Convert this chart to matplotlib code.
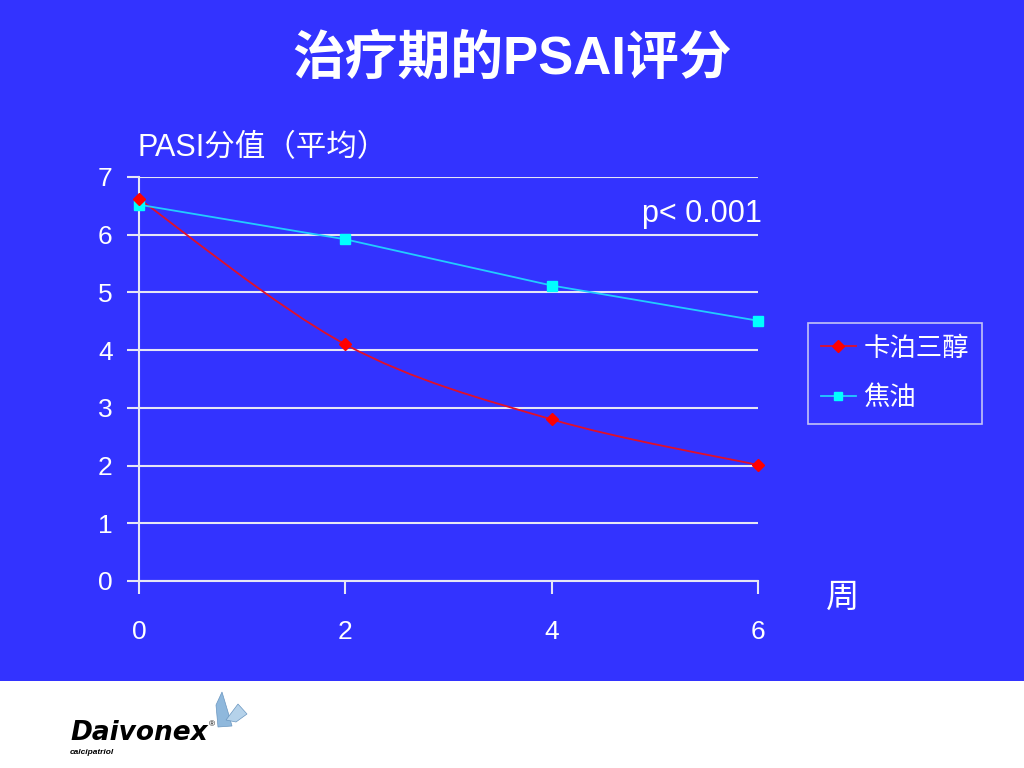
import numpy as np
import matplotlib
matplotlib.use("Agg")
import matplotlib.pyplot as plt
from matplotlib.path import Path
from matplotlib.patches import PathPatch, Rectangle, Polygon
from matplotlib.lines import Line2D

plt.rcParams['font.family'] = ['Liberation Sans', 'Noto Sans CJK SC', 'DejaVu Sans']

# data
weeks = [0, 2, 4, 6]
calcipotriol = [6.62, 4.10, 2.80, 2.01]
tar = [6.52, 5.92, 5.12, 4.51]
series_names = ['卡泊三醇', '焦油']
y_ticks = [0, 1, 2, 3, 4, 5, 6, 7]

BG = '#3333ff'
GRID = '#e6e6f5'


def smooth_path(xs, ys):
    # Catmull-Rom style bezier through the points (like PowerPoint smoothed line)
    pts = np.column_stack([xs, ys]).astype(float)
    verts = [pts[0]]
    codes = [Path.MOVETO]
    n = len(pts)
    for i in range(n - 1):
        p0 = pts[max(i - 1, 0)]
        p1 = pts[i]
        p2 = pts[i + 1]
        p3 = pts[min(i + 2, n - 1)]
        c1 = p1 + (p2 - p0) / 6.0
        c2 = p2 - (p3 - p1) / 6.0
        verts += [c1, c2, p2]
        codes += [Path.CURVE4] * 3
    return Path(verts, codes)


fig = plt.figure(figsize=(10.24, 7.68), dpi=100, facecolor=BG)

# white footer band
fig.patches.append(Rectangle((0, 0), 1, 87 / 768, transform=fig.transFigure,
                             facecolor='white', edgecolor='none', zorder=0))

ax = fig.add_axes([139 / 1024, 1 - 581 / 768, (758 - 139) / 1024, (581 - 177) / 768])
ax.set_facecolor(BG)
ax.set_xlim(0, 6)
ax.set_ylim(0, 7)
ax.set_xticks(weeks)
ax.set_yticks(y_ticks)
ax.grid(axis='y', color=GRID, linewidth=1.5)
ax.set_axisbelow(True)
for side in ['top', 'right']:
    ax.spines[side].set_visible(False)
for side in ['left', 'bottom']:
    ax.spines[side].set_color(GRID)
    ax.spines[side].set_linewidth(1.5)
ax.tick_params(colors=GRID, labelcolor='white', labelsize=19, length=9, width=1.5)
ax.tick_params(axis='x', pad=19)
ax.tick_params(axis='y', pad=10)

# red smoothed line
patch = PathPatch(smooth_path(weeks, calcipotriol), facecolor='none',
                  edgecolor='#e0102a', linewidth=1.3, zorder=3, clip_on=False)
ax.add_patch(patch)
ax.plot(weeks, calcipotriol, linestyle='none', marker='D', markersize=6,
        color='#ff0000', zorder=4, clip_on=False)

ax.plot(weeks, tar, color='#22ccff', linewidth=1.3, marker='s', markersize=6.5,
        markerfacecolor='#00ffff', markeredgecolor='#00ffff', zorder=3, clip_on=False)

handles = [
    Line2D([], [], color='#e0102a', marker='D', markersize=6, markerfacecolor='#ff0000',
           markeredgecolor='#ff0000', linewidth=1.3),
    Line2D([], [], color='#22ccff', marker='s', markersize=6, markerfacecolor='#00ffff',
           markeredgecolor='#00ffff', linewidth=1.3),
]
leg = fig.legend(handles, series_names, loc='upper left',
                 bbox_to_anchor=(808 / 1024, 1 - 323 / 768), fontsize=19,
                 frameon=True, fancybox=False, handlelength=1.3, handletextpad=0.3,
                 labelspacing=0.95, borderpad=0.5, borderaxespad=0, labelcolor='white')
leg.get_frame().set_facecolor(BG)
leg.get_frame().set_edgecolor(GRID)
leg.get_frame().set_linewidth(1.2)

# texts
fig.text(0.5, 1 - 60 / 768, '治疗期的PSAI评分', ha='center', va='center',
         fontsize=38, fontweight='bold', color='white',
         family=['Liberation Sans', 'Noto Sans CJK SC'])
fig.text(137 / 1024, 1 - 148 / 768, 'PASI分值（平均）', ha='left', va='center',
         fontsize=22, color='white')
fig.text(762 / 1024, 1 - 214 / 768, 'p< 0.001', ha='right', va='center',
         fontsize=22, color='white')
fig.text(843 / 1024, 1 - 597 / 768, '周', ha='center', va='center',
         fontsize=24, color='white', family=['Noto Sans CJK SC'])

# footer logo
fig.text(70 / 1024, 1 - 733 / 768, 'Daivonex', ha='left', va='center',
         fontsize=19, fontweight='bold', style='italic', color='black',
         family=['DejaVu Sans'])
fig.text(209 / 1024, 1 - 725 / 768, '®', ha='left', va='center', fontsize=6, color='black')
fig.text(70 / 1024, 1 - 753 / 768, 'calcipatriol', ha='left', va='center',
         fontsize=6, fontweight='bold', style='italic', color='black')
# small butterfly
wing1 = Polygon([(218, 727), (216, 705), (222, 692), (228, 712), (232, 726)], closed=True,
                transform=None, facecolor='#8fb8dc', edgecolor='#6a96c0', linewidth=0.5)
wing2 = Polygon([(226, 720), (238, 704), (247, 714), (236, 722)], closed=True,
                transform=None, facecolor='#b5d2ea', edgecolor='#6a96c0', linewidth=0.5)
for w in (wing1, wing2):
    xy = w.get_xy()
    xy[:, 1] = 768 - xy[:, 1]
    w.set_xy(xy)
    fig.patches.append(w)

fig.savefig('out.png', dpi=100, facecolor=BG)
